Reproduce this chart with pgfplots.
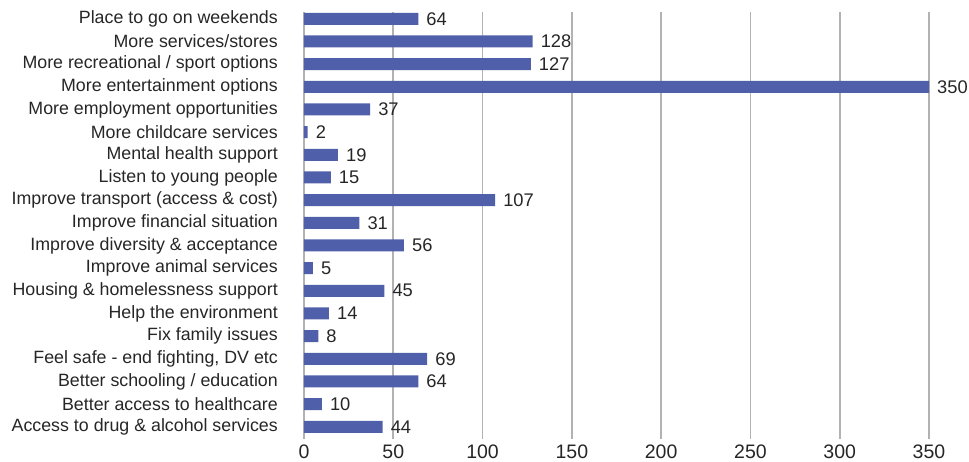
\documentclass[border=0pt]{standalone}
\usepackage{pgfplots}
\pgfplotsset{compat=1.18}
\usepackage{fontspec}
\setmainfont{Liberation Sans}
\definecolor{barblue}{RGB}{80,95,170}
\definecolor{gridgray}{RGB}{178,178,178}
\definecolor{txt}{RGB}{38,38,38}

\begin{document}
\begin{tikzpicture}
\begin{axis}[
  name=ax,
  scale only axis,
  width=625bp, height=427bp,
  xbar, bar width=12bp,
  xmin=0, xmax=350,
  ymin=-0.54, ymax=18.3,
  ytick={0,...,18},
  yticklabels={
    Access to drug \& alcohol services,
    Better access to healthcare,
    Better schooling / education,
    {Feel safe - end fighting, DV etc},
    Fix family issues,
    Help the environment,
    Housing \& homelessness support,
    Improve animal services,
    Improve diversity \& acceptance,
    Improve financial situation,
    Improve transport (access \& cost),
    Listen to young people,
    Mental health support,
    More childcare services,
    More employment opportunities,
    More entertainment options,
    More recreational / sport options,
    More services/stores,
    Place to go on weekends},
  xtick={0,50,...,350},
  xmajorgrids,
  grid style={gridgray, line width=1.6bp},
  axis line style={draw=none},
  major tick length=0pt,
  tick style={draw=none},
  yticklabel style={font=\fontsize{17.8bp}{20bp}\selectfont, text=txt, inner sep=0pt, xshift=-26bp},
  xticklabel style={font=\fontsize{19.5bp}{22bp}\selectfont, text=txt, inner sep=0pt, yshift=-5.5bp},
  /pgf/number format/assume math mode=true,
  nodes near coords,
  every node near coord/.append style={font=\fontsize{18.3bp}{21bp}\selectfont, text=txt, inner sep=0pt, xshift=8bp},
  clip=false,
]
% bottom to top
\addplot[fill=barblue, draw=none] coordinates {
  (44,0) (10,1) (64,2) (69,3) (8,4) (14,5) (45,6) (5,7) (56,8) (31,9)
  (107,10) (15,11) (19,12) (2,13) (37,14) (350,15) (127,16) (128,17) (64,18)
};
\end{axis}
\pgfresetboundingbox
\path[use as bounding box] ([shift={(-304bp,-23bp)}]ax.south west) rectangle ([shift={(40bp,12bp)}]ax.north east);
\end{tikzpicture}
\end{document}
